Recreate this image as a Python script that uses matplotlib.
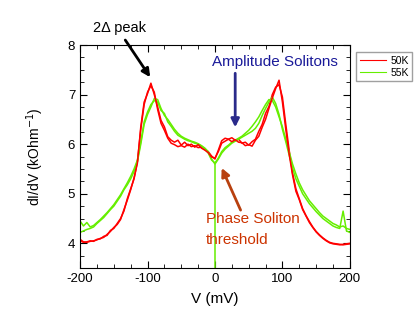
import numpy as np
import matplotlib
matplotlib.use("Agg")
import matplotlib.pyplot as plt
from matplotlib.ticker import MultipleLocator

plt.rcParams['font.family'] = ['Liberation Sans', 'DejaVu Sans']
plt.rcParams['axes.unicode_minus'] = False

# bias voltage grid (mV), 5 mV steps
volts = list(range(-200, 205, 5))

# 50K, two sweeps
red_a = [4.08, 4.03, 4.02, 4.04, 4.05, 4.07, 4.10, 4.12, 4.18, 4.24,
         4.32, 4.38, 4.48, 4.68, 4.87, 5.08, 5.32, 5.62, 6.35, 6.85,
         7.02, 7.23, 7.00, 6.75, 6.48, 6.35, 6.15, 6.08, 6.04, 6.08,
         5.98, 6.04, 5.97, 6.00, 5.94, 5.99, 5.92, 5.88, 5.83, 5.74,
         5.72, 5.85, 6.02, 6.06, 6.10, 6.05, 6.09, 6.04, 6.03, 5.97,
         5.99, 5.96, 6.08, 6.16, 6.34, 6.50, 6.72, 6.93, 7.12, 7.29,
         6.85, 6.30, 5.80, 5.38, 5.05, 4.88, 4.68, 4.55, 4.42, 4.32,
         4.23, 4.16, 4.10, 4.05, 4.01, 3.99, 3.98, 3.97, 3.98, 3.99, 4.00]
red_b = [4.05, 4.02, 4.03, 4.05, 4.04, 4.08, 4.09, 4.14, 4.16, 4.26,
         4.30, 4.40, 4.50, 4.65, 4.90, 5.10, 5.30, 5.65, 6.30, 6.80,
         7.05, 7.18, 7.05, 6.70, 6.42, 6.28, 6.12, 6.02, 5.99, 5.95,
         5.97, 5.94, 6.00, 5.95, 5.97, 5.93, 5.94, 5.89, 5.85, 5.76,
         5.70, 5.88, 6.07, 6.12, 6.10, 6.13, 6.08, 6.10, 6.02, 6.04,
         5.98, 6.05, 6.10, 6.26, 6.40, 6.62, 6.76, 7.00, 7.15, 7.20,
         6.95, 6.40, 5.88, 5.42, 5.10, 4.90, 4.70, 4.56, 4.44, 4.33,
         4.24, 4.17, 4.11, 4.06, 4.02, 4.00, 3.99, 3.98, 3.97, 3.98, 3.99]

# 55K, two sweeps
green_a = [4.22, 4.25, 4.28, 4.30, 4.33, 4.40, 4.46, 4.52, 4.60, 4.68,
           4.75, 4.85, 4.95, 5.08, 5.18, 5.30, 5.45, 5.65, 6.00, 6.40,
           6.60, 6.75, 6.92, 6.90, 6.72, 6.58, 6.50, 6.40, 6.30, 6.22,
           6.16, 6.12, 6.09, 6.06, 6.04, 6.01, 5.97, 5.92, 5.85, 5.70,
           5.60, 5.70, 5.82, 5.90, 5.96, 6.02, 6.06, 6.10, 6.14, 6.18,
           6.22, 6.26, 6.32, 6.42, 6.58, 6.72, 6.85, 6.95, 6.82, 6.60,
           6.30, 6.05, 5.78, 5.52, 5.30, 5.15, 5.00, 4.90, 4.80, 4.72,
           4.64, 4.57, 4.50, 4.45, 4.40, 4.35, 4.32, 4.30, 4.65, 4.25, 4.22]
green_b = [4.45, 4.35, 4.42, 4.33, 4.36, 4.42, 4.48, 4.55, 4.62, 4.70,
           4.78, 4.88, 4.98, 5.10, 5.22, 5.35, 5.50, 5.68, 6.05, 6.45,
           6.65, 6.80, 6.88, 6.85, 6.68, 6.62, 6.45, 6.36, 6.26, 6.18,
           6.14, 6.10, 6.07, 6.05, 6.02, 6.00, 5.96, 5.90, 5.82, 5.68,
           5.62, 5.72, 5.85, 5.93, 5.98, 6.04, 6.08, 6.12, 6.16, 6.22,
           6.28, 6.36, 6.45, 6.55, 6.68, 6.80, 6.90, 6.88, 6.75, 6.55,
           6.35, 6.10, 5.85, 5.60, 5.40, 5.22, 5.08, 4.97, 4.86, 4.78,
           4.70, 4.62, 4.55, 4.50, 4.45, 4.40, 4.37, 4.33, 4.35, 4.30, 4.28]

# vertical drop of the 55K trace at zero bias
spike_v = [0, 0]
spike_g = [5.60, 3.40]

red = '#ff0000'
green = '#66ee00'

fig = plt.figure(figsize=(4.15, 3.31), dpi=100)
ax = fig.add_axes([0.193, 0.190, 0.650, 0.674])

ax.plot(volts, red_b, color=red, lw=1.1)
ax.plot(volts, green_b, color=green, lw=1.1)
ax.plot(volts, green_a, color=green, lw=1.1, label='55K')
ax.plot(volts, red_a, color=red, lw=1.1, label='50K')
ax.plot(spike_v, spike_g, color=green, lw=1.1)

ax.set_xlim(-200, 200)
ax.set_ylim(3.5, 8)
ax.xaxis.set_major_locator(MultipleLocator(100))
ax.xaxis.set_minor_locator(MultipleLocator(25))
ax.yaxis.set_major_locator(MultipleLocator(1))
ax.yaxis.set_minor_locator(MultipleLocator(0.25))
ax.tick_params(which='both', direction='in', top=True, right=True, labelsize=9.5)
ax.tick_params(which='major', length=5)
ax.tick_params(which='minor', length=3)

ax.set_xlabel('V (mV)', fontsize=11, labelpad=5)
ax.set_ylabel('dI/dV (kOhm$^{-1}$)', fontsize=10, labelpad=16)

# 2-delta peak
ax.text(-181, 8.34, '2\u0394 peak', fontsize=10.5, va='center', ha='left')
ax.annotate('', xy=(-96, 7.35), xytext=(-133, 8.1), annotation_clip=False,
            arrowprops=dict(arrowstyle='-|>', color='black', lw=2,
                            mutation_scale=12, shrinkA=0, shrinkB=0))

# amplitude solitons
ax.text(-4, 7.66, 'Amplitude Solitons', fontsize=11, color='#1a1a99',
        va='center', ha='left')
ax.annotate('', xy=(30, 6.34), xytext=(30, 7.43),
            arrowprops=dict(arrowstyle='-|>', color='#2a2a8a', lw=2,
                            mutation_scale=12, shrinkA=0, shrinkB=0))

# phase soliton threshold
ax.text(-13, 4.5, 'Phase Soliton', fontsize=11, color='#cc3300',
        va='center', ha='left')
ax.text(-13, 4.06, 'threshold', fontsize=11, color='#cc3300',
        va='center', ha='left')
ax.annotate('', xy=(10, 5.52), xytext=(38, 4.67),
            arrowprops=dict(arrowstyle='-|>', color='#b8400f', lw=2,
                            mutation_scale=12, shrinkA=0, shrinkB=0))

handles, labels = ax.get_legend_handles_labels()
leg = ax.legend(handles[::-1], labels[::-1], loc='upper left',
                bbox_to_anchor=(1.005, 0.99), fontsize=7.5, frameon=True,
                fancybox=False, edgecolor='#888888', handlelength=2.5,
                borderpad=0.3, labelspacing=0.2, handletextpad=0.5)
for ln in leg.get_lines():
    ln.set_linewidth(0.8)

fig.savefig('out.png', dpi=100)
